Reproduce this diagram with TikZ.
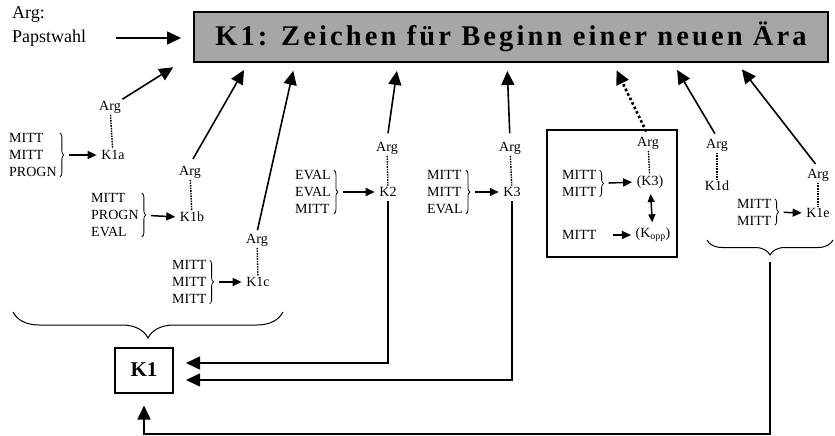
\documentclass[tikz,border=0pt]{standalone}
\usepackage{fontspec}
\setmainfont{Liberation Serif}
\newfontfamily\titlefont[LetterSpace=11]{Liberation Serif}
\usetikzlibrary{arrows.meta,decorations.pathreplacing}
\definecolor{titlegray}{RGB}{166,166,166}
\tikzset{
 lbl/.style={inner sep=1.5pt,font=\fontsize{14}{17}\selectfont},
 lst/.style={lbl,anchor=west,align=left,inner sep=0pt},
 curly/.style={decorate,decoration={brace,amplitude=4pt,raise=3pt},line width=0.8pt},
 bigbrace/.style={decorate,decoration={brace,amplitude=#1},line width=1pt},
 link/.style={dash pattern=on 1.6pt off 1pt,line width=1.4pt},
 arrow/.style={-{Triangle[length=14pt,width=13pt]},line width=1.6pt},
 dotarrow/.style={arrow,line width=2.6pt,dash pattern=on 2.6pt off 2.4pt},
 smallarrow/.style={-{Triangle[length=9pt,width=8pt]},line width=1.5pt,shorten <=12pt,shorten >=3pt},
 box/.style={draw,line width=2pt}}
\begin{document}
\begin{tikzpicture}[x=1pt,y=-1pt]
\useasboundingbox (0,0) rectangle (835,436);
% Titel und Papstwahl
\node[box,fill=titlegray,minimum width=634pt,minimum height=50pt,inner sep=0pt] (title) at (511,37) {\titlefont\bfseries\fontsize{28.5}{34}\selectfont K1: Zeichen für Beginn einer neuen Ära};
\node[anchor=west,inner sep=0pt,font=\fontsize{18}{22}\selectfont] (argP) at (12,15) {Arg:};
\node[anchor=west,inner sep=0pt,font=\fontsize{18}{22}\selectfont] (papst) at (12,38) {Papstwahl};
\draw[arrow,shorten <=30pt,shorten >=12pt] (papst.east) -- (papst.east -| title.west);
% K1a
\node[lst] (lstA) at (9,155) {MITT\\MITT\\PROGN};
\node[lbl] (kA) at (113,155) {K1a};
\node[lbl] (argA) at (110,107) {Arg};
\draw[curly] (lstA.north east) -- (lstA.south east); \draw[smallarrow] (lstA.east) -- (kA.west); \draw[link] (argA) -- (kA);
\draw[arrow,shorten >=8pt] (argA.north east) -- (180,0 |- title.south);
% K1b
\node[lst] (lstB) at (91,215) {MITT\\PROGN\\EVAL};
\node[lbl] (kB) at (192,217) {K1b};
\node[lbl] (argB) at (190,172) {Arg};
\draw[curly] (lstB.north east) -- (lstB.south east); \draw[smallarrow] (lstB.east) -- (kB.west); \draw[link] (argB) -- (kB);
\draw[arrow,shorten <=6pt,shorten >=8pt] (argB.north) -- (248,0 |- title.south);
% K1c
\node[lst] (lstC) at (172,282) {MITT\\MITT\\MITT};
\node[lbl] (kC) at (258,282) {K1c};
\node[lbl] (argC) at (257,240) {Arg};
\draw[curly] (lstC.north east) -- (lstC.south east); \draw[smallarrow] (lstC.east) -- (kC.west); \draw[link] (argC) -- (kC);
\draw[arrow,shorten <=2pt,shorten >=8pt] (argC.north) -- (295,0 |- title.south);
% K2
\node[lst] (lstK2) at (295,192) {EVAL\\EVAL\\MITT};
\node[lbl] (k2) at (388,192) {K2};
\node[lbl] (argK2) at (387,148) {Arg};
\draw[curly] (lstK2.north east) -- (lstK2.south east); \draw[smallarrow] (lstK2.east) -- (k2.west); \draw[link] (argK2) -- (k2);
\draw[arrow,shorten <=7pt,shorten >=8pt] (argK2.north) -- (398,0 |- title.south);
% K3
\node[lst] (lstK3) at (427,192) {MITT\\MITT\\EVAL};
\node[lbl] (k3) at (512,192) {K3};
\node[lbl] (argK3) at (510,148) {Arg};
\draw[curly] (lstK3.north east) -- (lstK3.south east); \draw[smallarrow] (lstK3.east) -- (k3.west); \draw[link] (argK3) -- (k3);
\draw[arrow,shorten <=7pt,shorten >=8pt] (argK3.north) -- (507,0 |- title.south);
% Kasten mit K3 und Kopp
\node[box,minimum width=130pt,minimum height=127pt,inner sep=0pt] (oppbox) at (612,193.5) {};
\node[lst] (lstO) at (562,183.5) {MITT\\MITT};
\node[lbl] (k3b) at (650,182) {(K3)};
\node[lbl] (argO) at (648,143) {Arg};
\node[lbl,anchor=west,inner sep=0pt] (mittO) at (562,235) {MITT};
\node[lbl] (kopp) at (653,235) {(K\textsubscript{opp})};
\draw[curly] (lstO.north east) -- (lstO.south east); \draw[smallarrow] (lstO.east) -- (k3b.west); \draw[link] (argO) -- (k3b);
\draw[smallarrow,shorten <=16pt] (mittO.east) -- (kopp.west);
\draw[{Triangle[length=8pt,width=7pt]}-{Triangle[length=8pt,width=7pt]},line width=1.5pt,shorten <=4pt,shorten >=4pt] (k3b) -- (kopp);
\draw[dotarrow,shorten <=4pt,shorten >=8pt] (argO.north) -- (613,0 |- title.south);
% K1d und K1e
\node[lbl] (kd) at (717,186) {K1d};
\node[lbl] (argKd) at (717,145) {Arg};
\draw[link] (argKd) -- (kd);
\draw[arrow,shorten <=4pt,shorten >=8pt] (argKd.north) -- (673,0 |- title.south);
\node[lst] (lstKe) at (737,212) {MITT\\MITT};
\node[lbl] (ke) at (818,213) {K1e};
\node[lbl] (argKe) at (818,175) {Arg};
\draw[curly] (lstKe.north east) -- (lstKe.south east); \draw[smallarrow] (lstKe.east) -- (ke.west); \draw[link] (argKe) -- (ke);
\draw[arrow,shorten <=4pt,shorten >=8pt] (argKe.north) -- (737,0 |- title.south);
% K1 und Klammern
\node[box,minimum width=58pt,minimum height=45pt,font=\bfseries\fontsize{21}{25}\selectfont] (kone) at (144,370) {K1};
\draw[bigbrace=26pt] (283,312) -- (13,312);
\draw[bigbrace=15pt] (833,240) -- (707,240);
\coordinate (tipR) at (770,262);
\draw[arrow,shorten <=3pt,shorten >=12pt] (k2.south) |- ([yshift=7pt]kone.east);
\draw[arrow,shorten <=3pt,shorten >=12pt] (k3.south) |- ([yshift=-10pt]kone.east);
\draw[arrow,shorten >=12pt] (tipR) -- ++(0,172) -| (kone.south);
\end{tikzpicture}
\end{document}
